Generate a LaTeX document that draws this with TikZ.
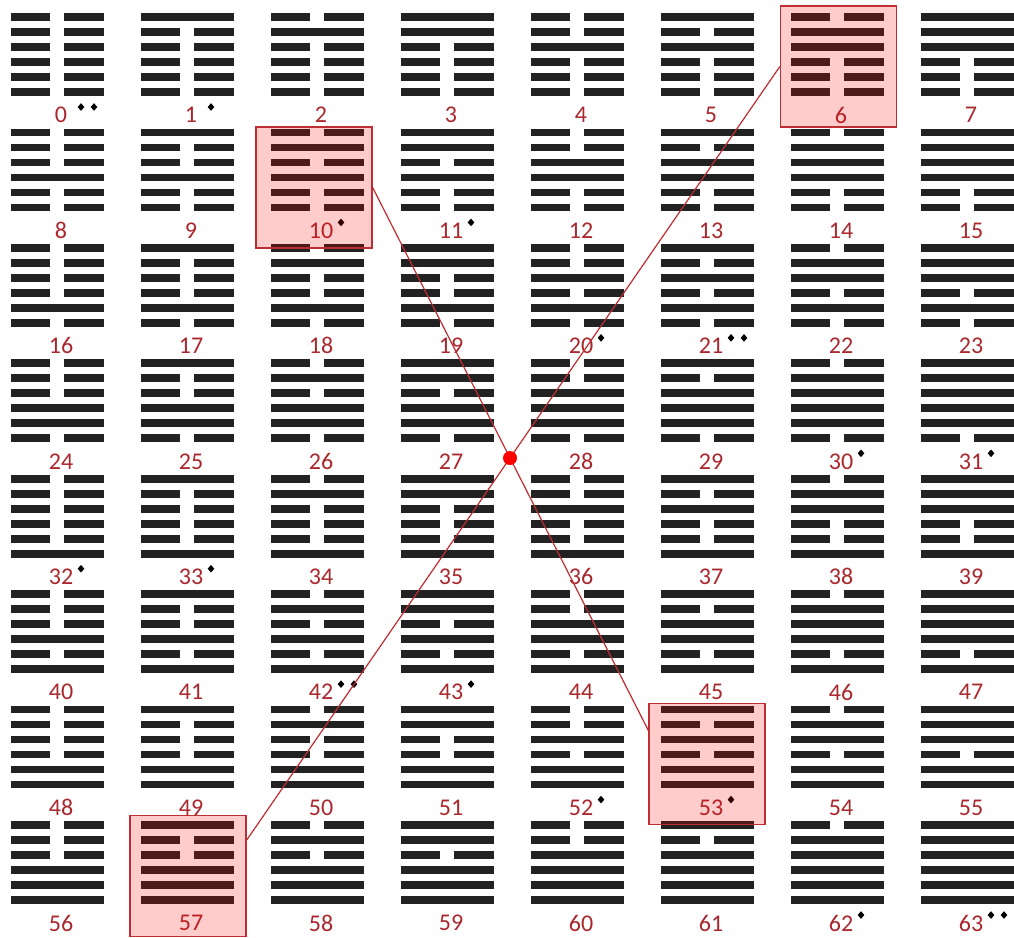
\documentclass[tikz,border=0pt]{standalone}
\usepackage{fontspec}
\setmainfont{Carlito}
\definecolor{lab}{RGB}{170,40,45}
\definecolor{bar}{RGB}{34,34,34}
\definecolor{hl}{RGB}{190,45,50}
\begin{document}
\begin{tikzpicture}[x=1pt,y=-1pt,
  lbl/.style={text=lab,font=\fontsize{24}{24}\selectfont,inner sep=0pt},
  hibox/.style={draw=hl,line width=1.3pt,fill=red,fill opacity=0.2,minimum width=116pt,minimum height=121pt,inner sep=0pt},
  conn/.style={draw=hl,line width=1.2pt},
  barfill/.style={fill=bar},
  dotmark/.style={fill=black}]
\fill[white] (0,0) rectangle (1014,937);
\useasboundingbox (0,0) rectangle (1014,937);
% hexagrams and labels
\foreach \n in {0,...,63}{
  \pgfmathtruncatemacro\col{mod(\n,8)}
  \pgfmathtruncatemacro\row{floor(\n/8)}
  \pgfmathsetmacro\cx{57+130*\col}
  \pgfmathsetmacro\ly{115+115.43*\row}
  \node[lbl] (l\n) at (\cx+4,\ly) {\n};
  \foreach \i in {0,...,5}{
    \pgfmathtruncatemacro\b{mod(floor(\n/pow(2,\i)),2)}
    \pgfmathsetmacro\yy{\ly-98+15*\i}
    \ifnum\b=1
      \fill[barfill] (\cx-46.5,\yy-3.9) rectangle (\cx+46.5,\yy+3.9);
    \else
      \fill[barfill] (\cx-46.5,\yy-3.9) rectangle (\cx-7,\yy+3.9);
      \fill[barfill] (\cx+7,\yy-3.9) rectangle (\cx+46.5,\yy+3.9);
    \fi
  }
}
% small markers
\foreach \n/\k in {0/2,1/1,10/1,11/1,20/1,21/2,30/1,31/1,32/1,33/1,42/2,43/1,52/1,53/1,62/1,63/2}{
  \pgfmathtruncatemacro\col{mod(\n,8)}
  \pgfmathtruncatemacro\row{floor(\n/8)}
  \pgfmathsetmacro\mx{57+130*\col+24}
  \pgfmathsetmacro\my{115+115.43*\row-8}
  \fill[dotmark] (\mx,\my-3.8) -- (\mx+3.3,\my) -- (\mx,\my+3.8) -- (\mx-3.3,\my) -- cycle;
  \fill[dotmark] (\mx,\my) circle (2.4);
  \ifnum\k=2
    \fill[dotmark] (\mx+13,\my-3.8) -- (\mx+16.3,\my) -- (\mx+13,\my+3.8) -- (\mx+9.7,\my) -- cycle;
    \fill[dotmark] (\mx+13,\my) circle (2.4);
  \fi
}
% highlight boxes
\node[hibox] (b6) at (838.5,66.5) {};
\node[hibox] (b10) at (314,187.5) {};
\node[hibox] (b53) at (707,764) {};
\node[hibox] (b57) at (188,876) {};
% connectors
\coordinate (xc) at (510,458);
\coordinate (b57ne) at (b57.north east);
\coordinate (b57se) at (b57.south east);
\coordinate (b53nw) at (b53.north west);
\coordinate (b53sw) at (b53.south west);
\coordinate (e57) at (intersection of b6.west--xc and b57ne--b57se);
\coordinate (e53) at (intersection of b10.east--xc and b53nw--b53sw);
\draw[conn] (b6.west) -- (e57);
\draw[conn] (b10.east) -- (e53);
\node[circle,fill=red,inner sep=0pt,minimum size=14pt] (X) at (xc) {};
\end{tikzpicture}
\end{document}
